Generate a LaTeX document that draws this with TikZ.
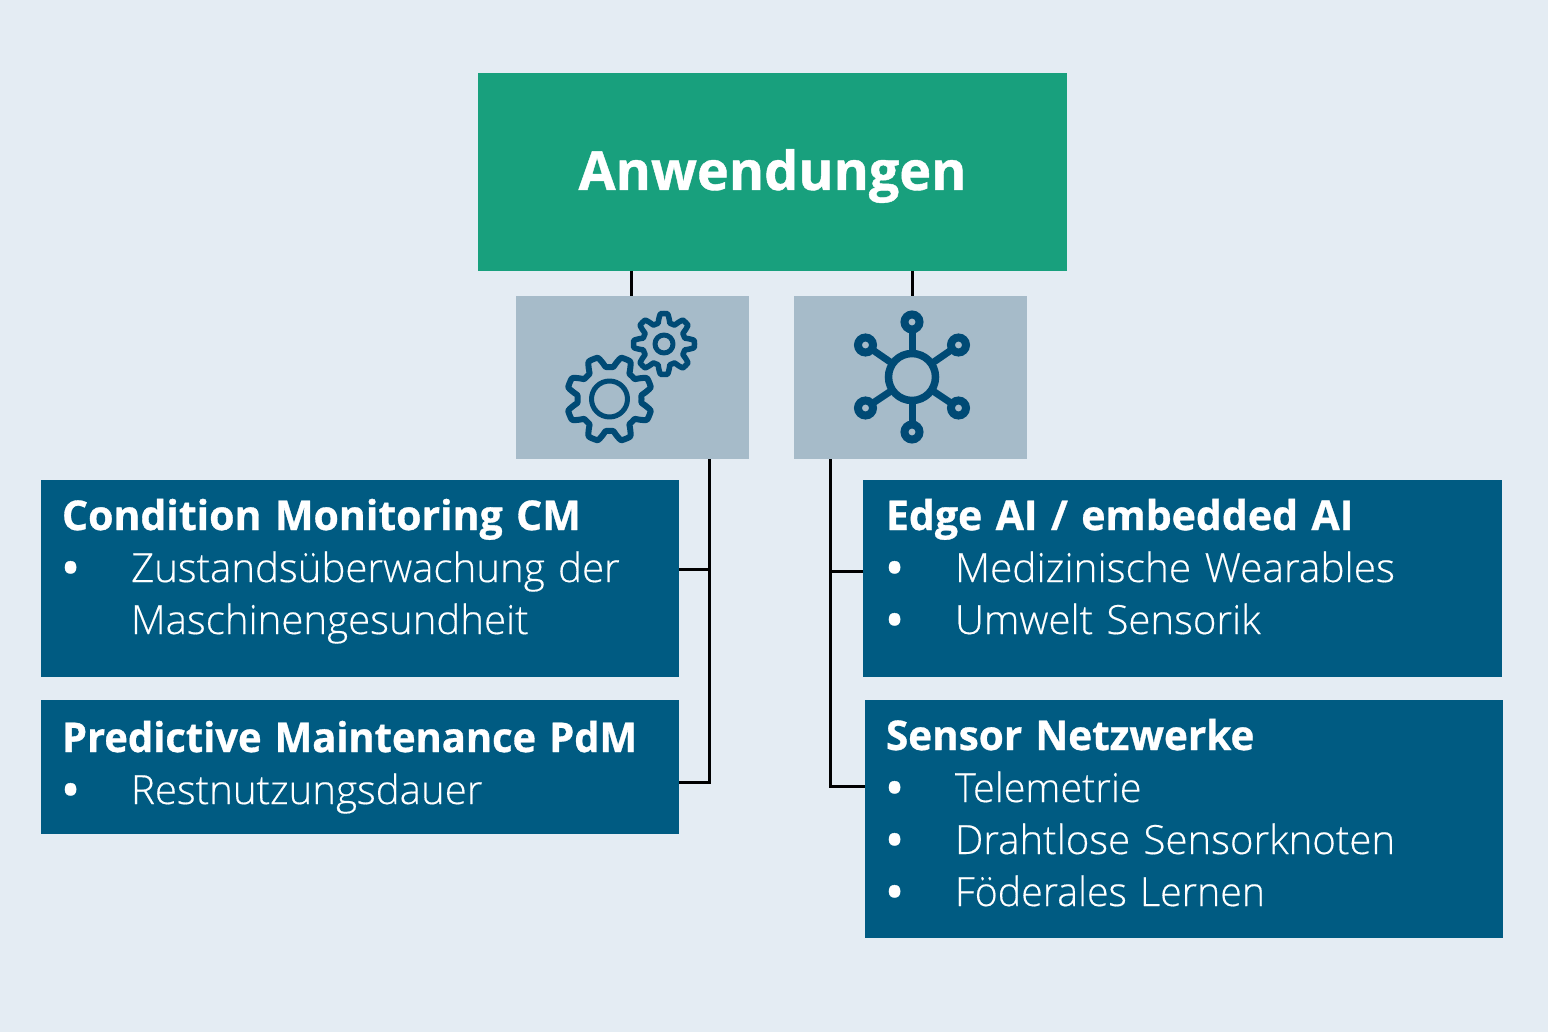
\documentclass[tikz,border=0pt]{standalone}
\usepackage{fontspec}
\usepackage{graphicx}
\setmainfont{Open Sans}
\newfontfamily\lightf[FakeBold=0.4]{Open Sans Light}
\newfontfamily\boldf[FakeBold=0.8]{Open Sans Bold}
\usetikzlibrary{calc}
\definecolor{bgc}{HTML}{E4ECF3}
\definecolor{greenc}{HTML}{18A07D}
\definecolor{bluec}{HTML}{005B82}
\definecolor{iconbox}{HTML}{A6BBC9}
\definecolor{icond}{HTML}{004A75}
\newcommand{\ttl}[2][1]{\rule{0pt}{36pt}{\fontsize{41}{52}\selectfont\boldf\scalebox{#1}[1]{#2}}\par}
\newcommand{\bul}[2][1]{\noindent\makebox[69pt][l]{\hspace*{1pt}\raisebox{0pt}{\boldf •}}\scalebox{#1}[1]{#2}\par}
\newcommand{\cont}[1]{\noindent\hspace*{69pt}#1\par}
\tikzset{
 box/.style={anchor=north west,inner sep=0pt,outer sep=0pt,fill=bluec},
 iconb/.style={anchor=north west,inner sep=0pt,outer sep=0pt,fill=iconbox},
 txt/.style={anchor=north west,inner sep=0pt,outer sep=0pt,text=white,text width=610pt,align=left,
   font=\fontsize{40.2}{52}\selectfont\lightf},
 conn/.style={draw=black,line width=3pt},
 ico/.style={draw=icond,line width=6pt,line join=round},
}
\begin{document}
\begin{tikzpicture}[x=1pt,y=-1pt]
\useasboundingbox (0,0) rectangle (1548,1032);
\fill[bgc] (0,0) rectangle (1548,1032);

\node[anchor=north west,inner sep=0pt,outer sep=0pt,fill=greenc,minimum width=589pt,minimum height=198pt,
  text=white,font=\fontsize{53.8}{60}\selectfont\boldf] (top) at (478,73) {\raisebox{-4pt}[\height][\depth]{Anwendungen}};
\node[iconb,minimum width=233pt,minimum height=163pt] (gears) at (516,296) {};
\node[iconb,minimum width=233pt,minimum height=163pt] (net) at (794,296) {};

\node[box,minimum width=638pt,minimum height=197pt] (cm) at (41,480) {};
\node[box,minimum width=638pt,minimum height=134pt] (pdm) at (41,700) {};
\node[box,minimum width=639pt,minimum height=197pt] (edge) at (863,480) {};
\node[box,minimum width=638pt,minimum height=238pt] (sn) at (865,700) {};

\node[txt] (tcm) at (62,494) {\ttl{Condition Monitoring CM}\bul{Zustandsüberwachung der}\cont{Maschinengesundheit}};
\node[txt] (tpdm) at (62,716) {\ttl[0.973]{Predictive Maintenance PdM}\bul{Restnutzungsdauer}};
\node[txt] (tedge) at (886,494) {\ttl{Edge AI / embedded AI}\bul[1.01]{Medizinische Wearables}\bul{Umwelt Sensorik}};
\node[txt] (tsn) at (886,714) {\ttl[0.986]{Sensor Netzwerke}\bul[0.985]{Telemetrie}\bul{Drahtlose Sensorknoten}\bul[0.978]{Föderales Lernen}};

% connectors
\coordinate (gt) at (631,296);
\coordinate (nt) at (912,296);
\coordinate (gb) at (709.5,459);
\coordinate (nb) at (830,459);
\coordinate (cme) at (679,569);
\coordinate (pdme) at (679,782);
\coordinate (edgew) at (863,571);
\coordinate (snw) at (865,786);
\draw[conn] (top.south -| gt) -- (gt);
\draw[conn] (top.south -| nt) -- (nt);
\draw[conn] (gb) |- (pdme);
\draw[conn] (cme) -- (cme -| gb);
\draw[conn] (nb) |- (snw);
\draw[conn] (edgew) -- (edgew -| nb);

% gears
\draw[ico] plot[domain=0:360,samples=181] ({609.5+(37.5-5.5*min(1,max(-1,1.7*cos(8*\x))))*cos(\x)},{399+(37.5-5.5*min(1,max(-1,1.7*cos(8*\x))))*sin(\x)}) -- cycle;
\draw[ico,line width=5pt] (609.5,399) circle (18);
\draw[ico,line width=5.5pt] plot[domain=0:360,samples=181] ({664+(26+4.5*min(1,max(-1,1.7*cos(8*\x))))*cos(\x)},{344+(26+4.5*min(1,max(-1,1.7*cos(8*\x))))*sin(\x)}) -- cycle;
\draw[ico,line width=5pt] (664,344) circle (9);

% network
\foreach \px/\py in {912/322,958.5/345,958.5/408,912/432,865.5/408,865.5/345}{
  \draw[icond,line width=7pt] (912,377) -- (\px,\py);
  \draw[icond,line width=8pt,fill=iconbox] (\px,\py) circle (7.5);
}
\draw[icond,line width=7.5pt,fill=iconbox] (912,377) circle (23.5);
\end{tikzpicture}
\end{document}
